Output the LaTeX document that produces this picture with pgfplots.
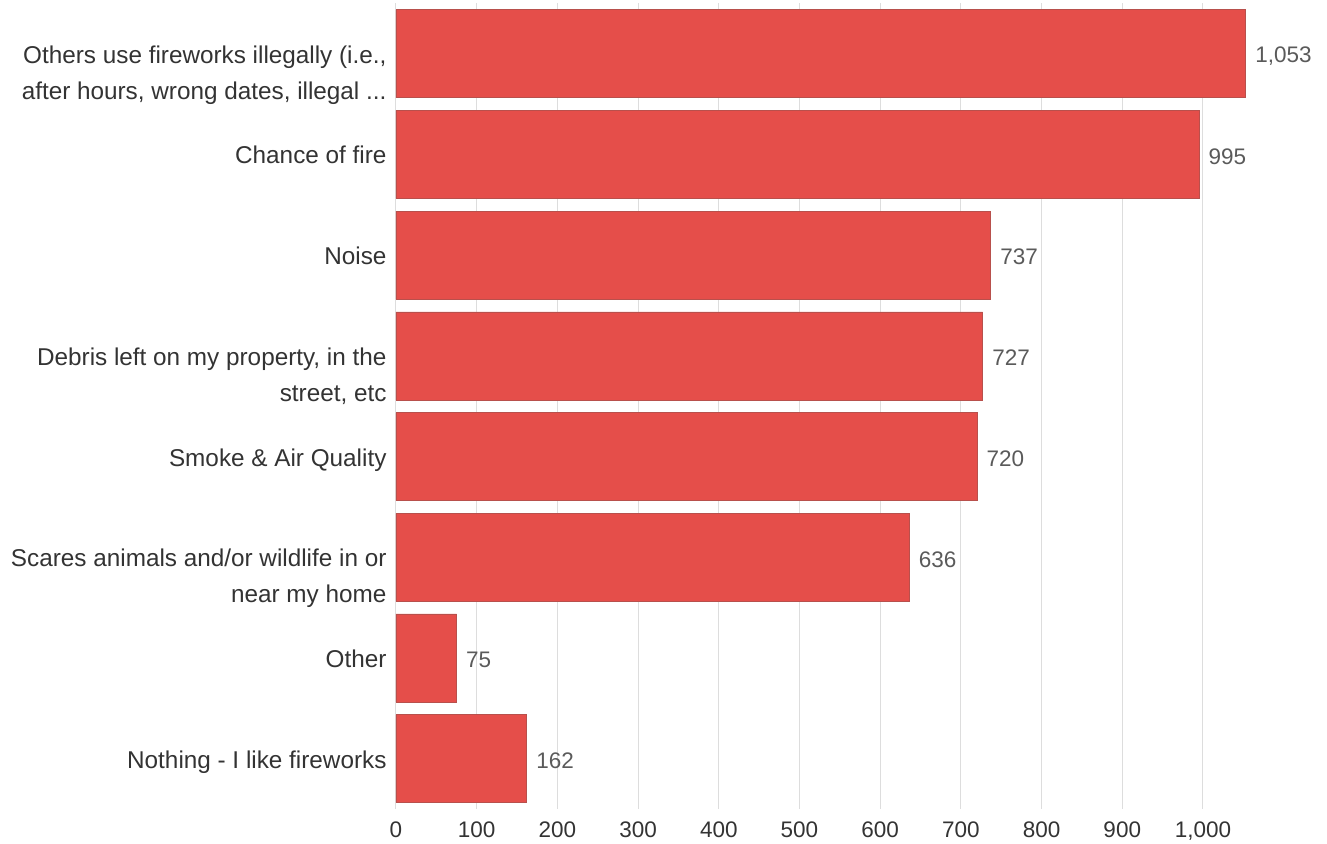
\documentclass[border=0pt]{standalone}
\usepackage{pgfplots}
\pgfplotsset{compat=1.18}
\usepackage{fontspec}
\setmainfont{Liberation Sans}
\newcommand\threedots{...}
\newcommand\twol[2]{\begin{tabular}[t]{@{}r@{}}#1\\#2\end{tabular}}
\definecolor{barred}{HTML}{E54E4A}
\definecolor{baredge}{HTML}{B8504C}
\definecolor{gridgray}{HTML}{DDDDDD}
\definecolor{labtext}{HTML}{333333}
\definecolor{valtext}{HTML}{5A5A5A}
\begin{document}
\begin{tikzpicture}
\useasboundingbox (-396pt,-34pt) rectangle (931pt,809pt);
\begin{axis}[
  at={(0,0)}, anchor=south west,
  scale only axis,
  width=928pt, height=805.6pt,
  xmin=0, xmax=1150,
  ymin=-0.5, ymax=7.5,
  y dir=reverse,
  xbar, bar width=88pt,
  axis line style={draw=none},
  major tick length=0pt,
  xtick={0,100,...,1000},
  xmajorgrids, grid style={gridgray, line width=1pt},
  ytick={0,...,7},
  yticklabels={{\twol{Others use fireworks illegally (i.e.,}{after hours, wrong dates, illegal \threedots}},
    {Chance of fire},{Noise},{\twol{Debris left on my property, in the}{street, etc}},
    {Smoke \& Air Quality},{\twol{Scares animals and/or wildlife in or}{near my home}},
    {Other},{Nothing - I like fireworks}},
  yticklabel style={anchor=base east, font=\fontsize{24.3}{36}\selectfont, text=labtext, xshift=-6pt, yshift=-9.5pt},
  xticklabel style={font=\fontsize{22.5}{27}\selectfont, text=labtext, yshift=-9pt},
  /pgf/number format/assume math mode=true,
  /pgf/number format/1000 sep={,},
  nodes near coords,
  nodes near coords style={font=\fontsize{22.5}{27}\selectfont, text=valtext, xshift=6pt, yshift=-2pt, /pgf/number format/1000 sep={,}},
]
\addplot[fill=barred, draw=baredge, line width=0.6pt] coordinates {
  (1053,0) (995,1) (737,2) (727,3) (720,4) (636,5) (75,6) (162,7)
};
\end{axis}
\end{tikzpicture}
\end{document}
